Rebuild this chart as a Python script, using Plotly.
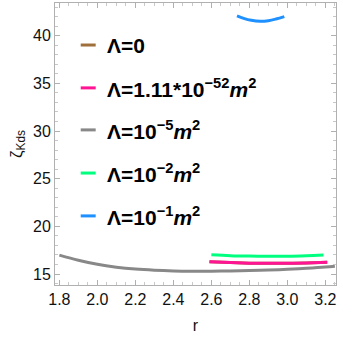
import plotly.graph_objects as go

# ---- data ----
labels = ["<b>Λ=0</b>",
          "<b>Λ=1.11*10<sup>−52</sup><i>m</i><sup>2</sup></b>",
          "<b>Λ=10<sup>−5</sup><i>m</i><sup>2</sup></b>",
          "<b>Λ=10<sup>−2</sup><i>m</i><sup>2</sup></b>",
          "<b>Λ=10<sup>−1</sup><i>m</i><sup>2</sup></b>"]
colors = ["#A0703C", "#FF1493", "#888888", "#00FF7F", "#1E90FF"]

r_l0 = [2.59, 2.7, 2.8, 2.9, 3.0, 3.1, 3.21]
z_l0 = [16.29, 16.20, 16.14, 16.12, 16.13, 16.17, 16.23]

r_l52 = [2.59, 2.7, 2.8, 2.9, 3.0, 3.1, 3.21]
z_l52 = [16.29, 16.20, 16.14, 16.12, 16.13, 16.17, 16.23]

r_l5 = [1.8, 1.9, 2.0, 2.1, 2.2, 2.3, 2.4, 2.5, 2.6, 2.7, 2.8, 2.9, 3.0, 3.1, 3.2, 3.25]
z_l5 = [16.98, 16.45, 16.02, 15.72, 15.52, 15.40, 15.33, 15.30, 15.30, 15.32, 15.36, 15.42, 15.50, 15.60, 15.73, 15.82]

r_l2 = [2.6, 2.7, 2.8, 2.9, 3.0, 3.1, 3.19]
z_l2 = [17.03, 16.93, 16.88, 16.86, 16.87, 16.92, 16.99]

r_l1 = [2.735, 2.77, 2.81, 2.857, 2.90, 2.94, 2.984]
z_l1 = [42.07, 41.82, 41.62, 41.52, 41.58, 41.75, 42.0]

series = [(r_l0, z_l0), (r_l52, z_l52), (r_l5, z_l5), (r_l2, z_l2), (r_l1, z_l1)]

FONT = "Liberation Sans, Arial"

fig = go.Figure()
for (rx, zy), c in zip(series, colors):
    fig.add_trace(go.Scatter(x=rx, y=zy, mode="lines",
                             line=dict(color=c, width=3, shape="spline"),
                             showlegend=False, hoverinfo="skip"))

# legend drawn manually
row_y = [0.851, 0.699, 0.550, 0.397, 0.245]
for lab, c, yy in zip(labels, colors, row_y):
    fig.add_shape(type="line", xref="paper", yref="paper",
                  x0=0.0915, x1=0.1448, y0=yy, y1=yy,
                  line=dict(color=c, width=3))
    fig.add_annotation(xref="paper", yref="paper", x=0.178, y=yy,
                       xanchor="left", yanchor="middle", showarrow=False,
                       text=lab, font=dict(size=21, color="black", family=FONT))

axis_common = dict(showline=True, linecolor="#b0b0b0", linewidth=1,
                   mirror="allticks", ticks="inside", ticklen=5,
                   tickcolor="#b0b0b0", showgrid=False, zeroline=False,
                   tickfont=dict(size=16, color="#111111", family=FONT))

fig.update_xaxes(range=[1.777, 3.256], tick0=1.8, dtick=0.2,
                 tickformat=".1f",
                 minor=dict(ticks="inside", ticklen=3, tickcolor="#c8c8c8",
                            dtick=0.05, tick0=1.8, showgrid=False),
                 title=dict(text="r", font=dict(size=16, color="#111111", family=FONT),
                            standoff=12),
                 **axis_common)
fig.update_yaxes(range=[13.85, 43.43], tick0=15, dtick=5,
                 minor=dict(ticks="inside", ticklen=3, tickcolor="#c8c8c8",
                            dtick=1, tick0=15, showgrid=False),
                 title=dict(text="ζ<sub>Kds</sub>",
                            font=dict(size=17, color="#111111", family=FONT),
                            standoff=6),
                 **axis_common)

fig.update_layout(width=341, height=341,
                  margin=dict(l=55, r=5, t=3, b=56),
                  paper_bgcolor="white", plot_bgcolor="white",
                  showlegend=False)

fig.write_html("out.html")
